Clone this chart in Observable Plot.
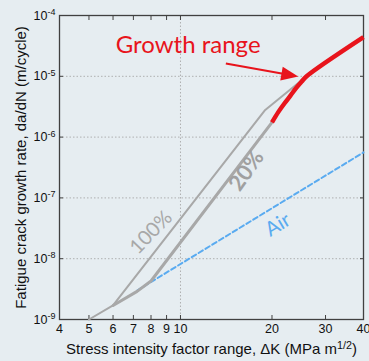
<!DOCTYPE html>
<html>
<head>
<meta charset="utf-8">
<script src="https://cdn.jsdelivr.net/npm/d3@7"></script>
<script src="https://cdn.jsdelivr.net/npm/@observablehq/plot@0.6"></script>
<style>
  html, body { margin: 0; padding: 0; background: #e6edf1; }
</style>
</head>
<body>
<div id="chart"></div>
<script>
// Axis ticks
const xTicks = [4, 5, 6, 7, 8, 9, 10, 20, 30, 40];
const xTickLabels = ["4", "5", "6", "7", "8", "9", "10", "20", "30", "40"];
const yTicks = [1e-9, 1e-8, 1e-7, 1e-6, 1e-5, 1e-4];
const yExponents = ["-9", "-8", "-7", "-6", "-5", "-4"];
const xGrid = [10];
const yGrid = [1e-8, 1e-7, 1e-6, 1e-5];

// Crack growth curves: ΔK (MPa m^1/2) vs da/dN (m/cycle)
const k100 = [5, 6, 19, 24.3, 26];
const rate100 = [1e-9, 1.7e-9, 2.8e-6, 7.6e-6, 1e-5];
const k20 = [6, 7.2, 8, 20];
const rate20 = [1.7e-9, 2.9e-9, 4.3e-9, 1.75e-6];
const kGrowth = [20, 21, 22, 23, 24, 25, 26, 40];
const rateGrowth = [1.75e-6, 2.6e-6, 3.6e-6, 4.8e-6, 6.4e-6, 8.1e-6, 1.0e-5, 4.4e-5];
const kAir = [7.2, 40];
const rateAir = [3.0e-9, 5.6e-7];

// Annotations
const curveLabels = ["100%", "20%", "Air"];
const curveLabelK = [8.0, 16.5, 20.9];
const curveLabelRate = [2.7e-8, 2.8e-7, 3.6e-8];
const growthLabel = "Growth range";
const growthLabelK = 10.6;
const growthLabelRate = 3.2e-5;
const arrowFrom = [14.1, 1.62e-5];
const arrowTo = [24.4, 9.9e-6];

const xTitle = "Stress intensity factor range, ΔK (MPa m^1/2)";
const yTitle = "Fatigue crack growth rate, da/dN (m/cycle)";

const red = "#e8141c";
const gray = "#a8a8a8";
const blue = "#5aabf0";
const axisColor = "#404040";

const W = 369, H = 361;
const margin = {left: 59, right: 6, top: 15, bottom: 42};
const xDomain = [4, 40], yDomain = [1e-9, 1e-4];

const pts = (xs, ys) => xs.map((x, i) => ({x, y: ys[i]}));

// Arrow direction in screen space, from the same scales the plot uses
const sx = Plot.scale({x: {type: "log", domain: xDomain, range: [margin.left, W - margin.right]}});
const sy = Plot.scale({y: {type: "log", domain: yDomain, range: [H - margin.bottom, margin.top]}});
const angle = Math.atan2(sy.apply(arrowTo[1]) - sy.apply(arrowFrom[1]),
                         sx.apply(arrowTo[0]) - sx.apply(arrowFrom[0])) * 180 / Math.PI;
const arrowHead = {
  draw(ctx) {
    ctx.moveTo(0, 0);
    ctx.lineTo(-7, 17);
    ctx.lineTo(7, 17);
    ctx.closePath();
  }
};

const chart = Plot.plot({
  width: W,
  height: H,
  marginLeft: margin.left,
  marginRight: margin.right,
  marginTop: margin.top,
  marginBottom: margin.bottom,
  style: {background: "#e6edf1", fontFamily: "'Liberation Sans', Arial, sans-serif", fontSize: "12px", color: "#111"},
  x: {type: "log", domain: xDomain},
  y: {type: "log", domain: yDomain},
  marks: [
    Plot.gridX(xGrid, {stroke: "#a0a0a0", strokeOpacity: 0.8, strokeDasharray: "1.5,2"}),
    Plot.gridY(yGrid, {stroke: "#a0a0a0", strokeOpacity: 0.8, strokeDasharray: "1.5,2"}),
    Plot.axisX(xTicks, {anchor: "bottom", tickSize: -4, tickPadding: 9, stroke: axisColor, fill: "#111",
      text: d => xTickLabels[xTicks.indexOf(d)], label: null, fontSize: 12.5}),
    Plot.axisX(xTicks, {anchor: "top", tickSize: -4, stroke: axisColor, text: () => "", label: null}),
    Plot.axisY(yTicks, {anchor: "left", tickSize: -4, tickPadding: 8, stroke: axisColor, fill: "#111",
      text: d => "10^" + yExponents[yTicks.indexOf(d)], label: null, fontSize: 12.5}),
    Plot.axisY(yTicks, {anchor: "right", tickSize: -4, stroke: axisColor, text: () => "", label: null}),
    Plot.frame({stroke: axisColor, strokeWidth: 1.3}),

    Plot.line(pts(kAir, rateAir), {x: "x", y: "y", stroke: blue, strokeWidth: 2, strokeDasharray: "5,3"}),
    Plot.line(pts(k100, rate100), {x: "x", y: "y", stroke: gray, strokeWidth: 2}),
    Plot.line(pts(k20, rate20), {x: "x", y: "y", stroke: gray, strokeWidth: 3}),
    Plot.line(pts(kGrowth, rateGrowth), {x: "x", y: "y", stroke: red, strokeWidth: 4.5, curve: "catmull-rom", strokeLinecap: "butt"}),

    Plot.text([0], {x: [curveLabelK[0]], y: [curveLabelRate[0]], text: [curveLabels[0]], rotate: -46,
      fill: gray, fontSize: 20, fontFamily: "Lato"}),
    Plot.text([0], {x: [curveLabelK[1]], y: [curveLabelRate[1]], text: [curveLabels[1]], rotate: -55,
      fill: "#a0a0a0", fontSize: 22, fontWeight: "bold", fontFamily: "Lato"}),
    Plot.text([0], {x: [curveLabelK[2]], y: [curveLabelRate[2]], text: [curveLabels[2]], rotate: -31,
      fill: blue, fontSize: 20, fontFamily: "Lato"}),
    Plot.text([0], {x: [growthLabelK], y: [growthLabelRate], text: [growthLabel],
      fill: red, fontSize: 24, fontFamily: "Lato"}),

    Plot.arrow([0], {x1: [arrowFrom[0]], y1: [arrowFrom[1]], x2: [arrowTo[0]], y2: [arrowTo[1]],
      stroke: red, strokeWidth: 2, headLength: 0, insetEnd: 14, strokeLinecap: "butt"}),
    Plot.dot([0], {x: [arrowTo[0]], y: [arrowTo[1]], symbol: arrowHead, fill: red, stroke: null,
      rotate: 90 + angle}),

    Plot.text([xTitle], {frameAnchor: "bottom", dy: 30, text: d => d, textAnchor: "middle", lineAnchor: "middle",
      fontSize: 15, fill: "#111"}),
    Plot.text([yTitle], {frameAnchor: "left", dx: -38, rotate: -90, text: d => d, textAnchor: "middle", lineAnchor: "middle",
      fontSize: 15, fill: "#111"})
  ]
});

// Superscripts for the powers of ten and the units
d3.select(chart).selectAll("text").each(function() {
  const t = d3.select(this);
  const s = t.text();
  if (!s.includes("^")) return;
  const [base, rest] = s.split("^");
  const close = rest.endsWith(")") ? ")" : "";
  const exp = close ? rest.slice(0, -1) : rest;
  t.text(base);
  t.append("tspan").attr("dy", "-0.5em").attr("font-size", "0.72em").text(exp);
  if (close) t.append("tspan").attr("dy", "0.36em").text(close);
});

document.getElementById("chart").append(chart);
</script>
</body>
</html>
